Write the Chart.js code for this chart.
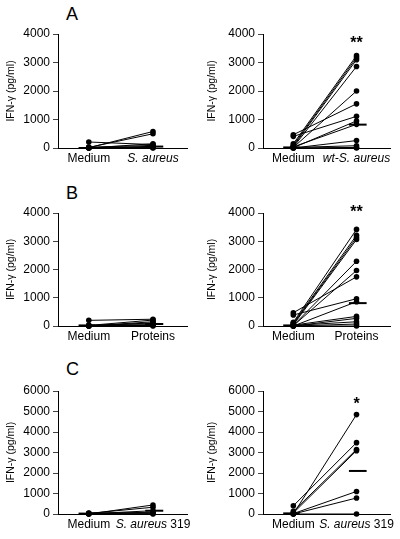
<!DOCTYPE html>
<html>
<head>
<meta charset="utf-8">
<script src="https://cdn.jsdelivr.net/npm/chart.js@4"></script>
<style>
  body { margin: 0; background: #fff; }
  #page { position: relative; width: 400px; height: 539px; background: #fff; }
  canvas { position: absolute; }
  .letter { position: absolute; left: 66px; font: 18px "Liberation Sans", Arial, sans-serif; line-height: 1; color: #000; }
</style>
</head>
<body>
<div id="page">
  <div class="letter" style="top:5px">A</div>
  <div class="letter" style="top:184px">B</div>
  <div class="letter" style="top:360px">C</div>
</div>
<script>
// categories
var catsA1 = ["Medium", "S. aureus"];
var catsA2 = ["Medium", "wt-S. aureus"];
var catsB = ["Medium", "Proteins"];
var catsC = ["Medium", "S. aureus 319"];

var yTicks4000 = [0, 1000, 2000, 3000, 4000];
var yTicks6000 = [0, 1000, 2000, 3000, 4000, 5000, 6000];
var yTitle = "IFN-γ (pg/ml)";

// panel A left
var a1Medium = [210, 10, 20, 0, 30, 0, 10, 0, 20];
var a1Stim   = [120, 580, 500, 150, 90, 60, 30, 0, 10];
var a1Median = [0, 50];

// panel A right
var a2Medium = [466, 408, 150, 100, 60, 30, 20, 10, 40, 0, 20, 0, 0];
var a2Stim   = [1550, 1110, 3240, 3170, 3100, 2860, 2000, 950, 830, 260, 80, 20, 0];
var a2Median = [20, 820];

// panel B left
var b1Medium = [200, 20, 0, 10, 30, 0, 10, 0];
var b1Stim   = [240, 210, 150, 110, 80, 50, 20, 0];
var b1Median = [20, 70];

// panel B right
var b2Medium = [470, 390, 130, 100, 70, 40, 20, 10, 0, 30, 0, 20, 0, 0];
var b2Stim   = [1740, 965, 3420, 3210, 3130, 3060, 2290, 1965, 860, 340, 270, 150, 70, 0];
var b2Median = [20, 810];

// panel C left
var c1Medium = [0, 30, 10, 50, 0, 20];
var c1Stim   = [440, 330, 160, 80, 0, 30];
var c1Median = [20, 160];

// panel C right
var c2Medium = [400, 0, 130, 50, 20, 0, 0];
var c2Stim   = [3480, 4850, 3150, 3090, 1100, 780, 0];
var c2Median = [30, 2100];

var stars = ["", "**", "", "**", "", "*"];

var FONT = '"Liberation Sans", Arial, sans-serif';
var page = document.getElementById("page");

function splitLabel(t) {
    var m = t.match(/^(wt-)?S\. aureus/);
    if (!m) return [[t, false]];
    return [[m[0], true], [t.slice(m[0].length), false]];
}

function makePanel(p) {
    var cv = document.createElement("canvas");
    cv.width = 200; cv.height = p.h;
    cv.style.left = p.left + "px";
    cv.style.top = p.top + "px";
    page.appendChild(cv);

    var ds = [];
    for (var i = 0; i < p.medium.length; i++) {
        ds.push({
            data: [{x: 0, y: p.medium[i]}, {x: 1, y: p.stim[i]}],
            showLine: true, borderColor: "#000", borderWidth: 1,
            pointRadius: 2.8, pointBackgroundColor: "#000", pointBorderWidth: 0,
            clip: false
        });
    }
    // median bars
    ds.push({ data: [{x: -0.16, y: p.median[0]}, {x: 0.1, y: p.median[0]}],
              showLine: true, borderColor: "#000", borderWidth: 2, pointRadius: 0, clip: false });
    ds.push({ data: [{x: 0.88, y: p.median[1]}, {x: 1.16, y: p.median[1]}],
              showLine: true, borderColor: "#000", borderWidth: 2, pointRadius: 0, clip: false });

    var extras = {
        id: "extras",
        afterDraw: function(chart) {
            var ctx = chart.ctx;
            var xs = chart.scales.x, ys = chart.scales.y;
            ctx.save();
            ctx.fillStyle = "#000";
            ctx.textBaseline = "middle";
            ctx.textAlign = "left";
            var ly = chart.chartArea.bottom + 11;
            for (var k = 0; k < p.cats.length; k++) {
                var parts = splitLabel(p.cats[k]);
                var w = 0;
                parts.forEach(function(pt) {
                    ctx.font = (pt[1] ? "italic " : "") + "12px " + FONT;
                    w += ctx.measureText(pt[0]).width;
                });
                var x = xs.getPixelForValue(k) - w / 2;
                parts.forEach(function(pt) {
                    ctx.font = (pt[1] ? "italic " : "") + "12px " + FONT;
                    ctx.fillText(pt[0], x, ly);
                    x += ctx.measureText(pt[0]).width;
                });
            }
            if (p.star) {
                ctx.font = "bold 16px " + FONT;
                ctx.textAlign = "center";
                ctx.fillText(p.star, xs.getPixelForValue(1), ys.getPixelForValue(p.starY) + 4);
            }
            ctx.restore();
        }
    };

    new Chart(cv, {
        type: "scatter",
        data: { datasets: ds },
        options: {
            responsive: false,
            animation: false,
            events: [],
            layout: { padding: { left: 0, right: p.padRight, top: p.padTop, bottom: p.padBottom } },
            plugins: { legend: { display: false }, tooltip: { enabled: false } },
            scales: {
                x: {
                    type: "linear", min: -0.48, max: 1.53,
                    afterFit: function(s) { s.height = 2; },
                    ticks: { display: false },
                    grid: { display: false },
                    border: { display: true, color: "#000", width: 1 }
                },
                y: {
                    min: 0, max: p.yTicks[p.yTicks.length - 1],
                    afterFit: function(s) { s.width = p.yw; },
                    afterBuildTicks: function(s) { s.ticks = p.yTicks.map(function(v) { return {value: v}; }); },
                    ticks: { color: "#000", padding: 3, font: { family: FONT, size: 12 },
                             callback: function(v) { return String(v); } },
                    grid: { display: true, drawOnChartArea: false, drawTicks: true, tickLength: 5, color: "#444" },
                    border: { display: true, color: "#000", width: 1 },
                    title: { display: true, text: yTitle, color: "#000",
                             font: { family: FONT, size: 10.5 }, padding: { top: p.titlePad, bottom: 0 } }
                }
            }
        },
        plugins: [extras]
    });
}

var rows = [
    { top: 0, h: 180, padTop: 34, padBottom: 30, yTicks: yTicks4000 },
    { top: 180, h: 180, padTop: 33, padBottom: 32, yTicks: yTicks4000 },
    { top: 360, h: 179, padTop: 31, padBottom: 23, yTicks: yTicks6000 }
];
var panels = [
    { row: 0, col: 0, cats: catsA1, medium: a1Medium, stim: a1Stim, median: a1Median },
    { row: 0, col: 1, cats: catsA2, medium: a2Medium, stim: a2Stim, median: a2Median, starY: 3800 },
    { row: 1, col: 0, cats: catsB, medium: b1Medium, stim: b1Stim, median: b1Median },
    { row: 1, col: 1, cats: catsB, medium: b2Medium, stim: b2Stim, median: b2Median, starY: 4150 },
    { row: 2, col: 0, cats: catsC, medium: c1Medium, stim: c1Stim, median: c1Median },
    { row: 2, col: 1, cats: catsC, medium: c2Medium, stim: c2Stim, median: c2Median, starY: 5550 }
];

panels.forEach(function(p, i) {
    var r = rows[p.row];
    p.top = r.top; p.h = r.h; p.padTop = r.padTop; p.padBottom = r.padBottom; p.yTicks = r.yTicks;
    p.left = p.col * 200;
    p.yw = p.col === 0 ? 58 : 63;
    p.padRight = p.col === 0 ? 13 : 10;
    p.titlePad = p.col === 0 ? 5 : 6;
    p.star = stars[i];
    makePanel(p);
});
</script>
</body>
</html>
